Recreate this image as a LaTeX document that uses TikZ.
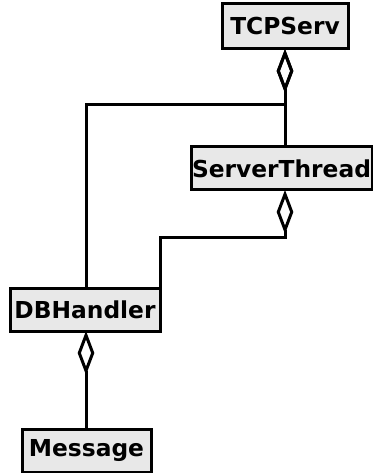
\documentclass[tikz,border=0pt]{standalone}
\usepackage{fontspec}
\setmainfont{DejaVu Sans}
\usetikzlibrary{arrows.meta}
\definecolor{boxfill}{HTML}{E8E8E8}
\tikzset{
  cls/.style={draw=black, line width=2.25pt, fill=boxfill, inner sep=0pt, outer sep=0pt,
    font=\fontsize{17.5pt}{19pt}\selectfont\bfseries},
  agg/.style={line width=2.25pt, -{Diamond[open, length=33pt, width=12.5pt]}},
}
\begin{document}
\begin{tikzpicture}[x=0.75pt, y=-0.75pt]
\useasboundingbox (0,0) rectangle (373,473);
\node[cls, minimum width=126*0.75pt, minimum height=45*0.75pt] (tcp) at (285,26.5) {TCPServ};
\node[cls, minimum width=181*0.75pt, minimum height=43*0.75pt] (st) at (281.5,168.5) {ServerThread};
\node[cls, minimum width=150*0.75pt, minimum height=43*0.75pt] (db) at (85,309.5) {DBHandler};
\node[cls, minimum width=129*0.75pt, minimum height=43*0.75pt] (msg) at (86.5,450.5) {Message};
\coordinate (j1) at (285,105);
\coordinate (j2) at (285,238);
\draw[agg] (st.north -| j1) -- (tcp.south -| j1);
\draw[agg] (db.north -| 86,0) |- (j1) -- (tcp.south -| j1);
\draw[agg] (db.north -| 160,0) |- (j2) -- (st.south -| j2);
\draw[agg] (msg.north -| 86,0) -- (db.south -| 86,0);
\end{tikzpicture}
\end{document}
